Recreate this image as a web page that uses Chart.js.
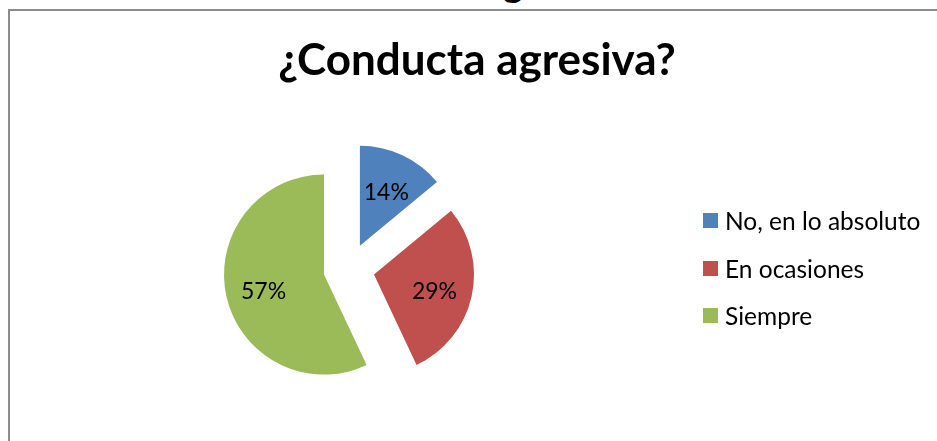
<!DOCTYPE html>
<html>
<head>
<meta charset="utf-8">
<script src="https://cdn.jsdelivr.net/npm/chart.js@4/dist/chart.umd.min.js"></script>
<style>
    html, body { margin: 0; padding: 0; background: #fff; overflow: hidden; width: 937px; height: 441px; }
    #prev { position: absolute; left: 503px; top: -37px; font: bold 38px Lato; line-height: 38px; color: #000; }
    #frame { position: absolute; left: 8px; top: 9px; width: 932px; height: 440px; border: 2px solid #8c8c8c; background: #fff; }
    #chart { position: absolute; left: 0; top: 0; }
    #title { position: absolute; left: 0; top: 25px; width: 934px; text-align: center; font: bold 44px Lato; line-height: 44px; color: #000; }
    #legend { position: absolute; left: 693px; top: 186px; }
</style>
</head>
<body>
<div id="prev">g</div>
<div id="frame">
    <canvas id="chart" width="932" height="430"></canvas>
    <div id="title"></div>
    <div id="legend"></div>
</div>
<script>
const categories = ['No, en lo absoluto', 'En ocasiones', 'Siempre'];
const percentages = [14, 29, 57];
const sliceColors = ['#4F81BD', '#C0504D', '#9BBB59'];
const chartTitle = '¿Conducta agresiva?';

document.getElementById('title').textContent = chartTitle;

// pull every slice away from the centre, like an exploded Excel pie
const explodePlugin = {
    id: 'explode',
    afterDatasetUpdate(chart, args, options) {
        args.meta.data.forEach(arc => {
            const mid = (arc.startAngle + arc.endAngle) / 2;
            arc.x += Math.cos(mid) * options.distance;
            arc.y += Math.sin(mid) * options.distance;
        });
    }
};

// percentage text inside each slice
const sliceLabelPlugin = {
    id: 'sliceLabels',
    afterDatasetsDraw(chart, args, options) {
        const ctx = chart.ctx;
        const meta = chart.getDatasetMeta(0);
        ctx.save();
        ctx.font = options.font;
        ctx.fillStyle = options.color;
        ctx.textAlign = 'center';
        ctx.textBaseline = 'middle';
        meta.data.forEach((arc, i) => {
            const mid = (arc.startAngle + arc.endAngle) / 2;
            const r = arc.outerRadius * options.position;
            ctx.fillText(percentages[i] + '%', arc.x + Math.cos(mid) * r, arc.y + Math.sin(mid) * r + options.dy);
        });
        ctx.restore();
    }
};

const htmlLegendPlugin = {
    id: 'htmlLegend',
    afterUpdate(chart, args, options) {
        const box = document.getElementById(options.containerID);
        while (box.firstChild) {
            box.firstChild.remove();
        }

        const items = chart.options.plugins.legend.labels.generateLabels(chart);
        items.forEach(item => {
            const row = document.createElement('div');
            row.style.display = 'flex';
            row.style.alignItems = 'center';
            row.style.height = '47.5px';

            // colour box
            const swatch = document.createElement('span');
            swatch.style.display = 'inline-block';
            swatch.style.width = '15px';
            swatch.style.height = '15px';
            swatch.style.marginRight = '7px';
            swatch.style.background = item.fillStyle;

            const label = document.createElement('span');
            label.style.font = '24.5px Lato';
            label.style.color = '#000';
            label.textContent = item.text;

            row.appendChild(swatch);
            row.appendChild(label);
            box.appendChild(row);
        });
    }
};

new Chart(document.getElementById('chart'), {
    type: 'pie',
    data: {
        labels: categories,
        datasets: [{
            data: percentages,
            backgroundColor: sliceColors,
            borderWidth: 0,
            radius: 100
        }]
    },
    options: {
        responsive: false,
        animation: false,
        events: [],
        layout: {
            // puts the pie centre at (339, 258) inside the frame
            padding: {left: 0, right: 254, top: 86, bottom: 0}
        },
        plugins: {
            legend: {display: false},
            tooltip: {enabled: false},
            title: {display: false},
            explode: {distance: 25.6},
            sliceLabels: {font: '23px Lato', color: '#000', position: 0.62, dy: 3},
            htmlLegend: {containerID: 'legend'}
        }
    },
    plugins: [explodePlugin, sliceLabelPlugin, htmlLegendPlugin]
});
</script>
</body>
</html>
